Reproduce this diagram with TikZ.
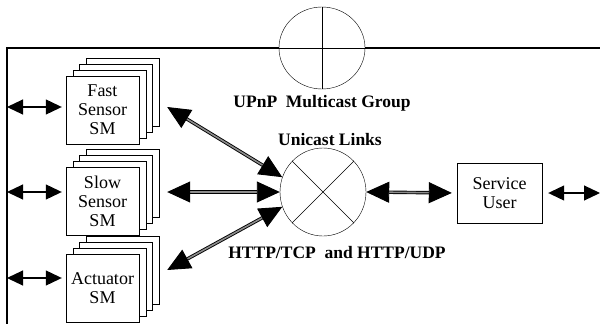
\documentclass[tikz,border=0pt]{standalone}
\usepackage{fontspec}
\setmainfont{Liberation Serif}
\usepackage{tikz}
\usetikzlibrary{arrows.meta,positioning,calc,shapes.geometric,shadows}
\definecolor{linkgray}{RGB}{140,140,140}
\tikzset{
  smbox/.style={draw, fill=white, minimum width=73pt, minimum height=68pt,
    align=center, inner sep=1pt, font=\fontsize{18}{19}\selectfont},
  smstack/.style={smbox,
    copy shadow={shadow xshift=20pt, shadow yshift=18pt},
    copy shadow={shadow xshift=13.3pt, shadow yshift=12pt},
    copy shadow={shadow xshift=6.7pt, shadow yshift=6pt}},
  userbox/.style={draw, minimum width=85pt, minimum height=60pt,
    align=center, inner sep=1pt, font=\fontsize{18}{19}\selectfont},
  hub/.style={ellipse, draw, minimum width=86pt, minimum height=82pt, inner sep=0pt},
  tag/.style={font=\bfseries\fontsize{17.5}{19}\selectfont, inner sep=0pt},
  bus/.style={line width=1.4pt},
  flow/.style={{Triangle[length=16pt,width=15pt]}-{Triangle[length=16pt,width=15pt]}, line width=1.1pt},
  link/.style={{Triangle[length=23pt,width=21pt]}-{Triangle[length=23pt,width=21pt]},
    draw=black, line width=0.9pt, double=linkgray, double distance=1.6pt}
}

\begin{document}
\begin{tikzpicture}[x=1pt, y=-1pt]
\useasboundingbox (0,0) rectangle (600,324);

% multicast group on the bus
\node[hub] (mcast) at (322,48) {};
\coordinate (tl) at (7,48);
\coordinate (bl) at (7,324);
\coordinate (tr) at (600,48);
\draw[bus] (bl) -- (tl) -- (mcast.west);
\draw[bus] (mcast.east) -- (tr);
\draw (mcast.north) -- (mcast.south);
\draw (mcast.west) -- (mcast.east);
\node[tag] (mlabel) at (322,103) {UPnP\ \ Multicast Group};

% unicast hub
\node[hub, minimum height=88pt] (ucast) at (323,192) {};
\draw (ucast.45) -- (ucast.225);
\draw (ucast.135) -- (ucast.315);
\node[tag] (ulabel) at (330,140) {Unicast Links};
\node[tag] (plabel) at (337,253) {HTTP/TCP\ \ and HTTP/UDP};

% service managers
\node[smstack] (fs) at (102.5,110) {Fast\\Sensor\\SM};
\node[smstack] (ss) at (102.5,201) {Slow\\Sensor\\SM};
\node[smstack] (act) at (102.5,288) {Actuator\\SM};

\node[userbox] (su) at (499.5,193) {Service\\User};

% links to the bus
\coordinate (b1) at (7,107);
\coordinate (b2) at (7,192);
\coordinate (b3) at (7,278);
\coordinate (re) at (600,193);
\draw[flow, shorten >=4pt] (b1) -- (b1 -| fs.west);
\draw[flow, shorten >=4pt] (b2) -- (b2 -| ss.west);
\draw[flow, shorten >=4pt] (b3) -- (b3 -| act.west);
\draw[flow, shorten <=6pt] (su.east) -- (re);

% unicast links
\draw[link] ([shift={(28,-3)}]fs.east) -- (ucast.160);
\draw[link] ([shift={(28,-9)}]ss.east) -- (ucast.west);
\draw[link] ([shift={(28,-18)}]act.east) -- (ucast.200);
\draw[link, shorten >=5pt] (ucast.east) -- (su.west);
\end{tikzpicture}
\end{document}
